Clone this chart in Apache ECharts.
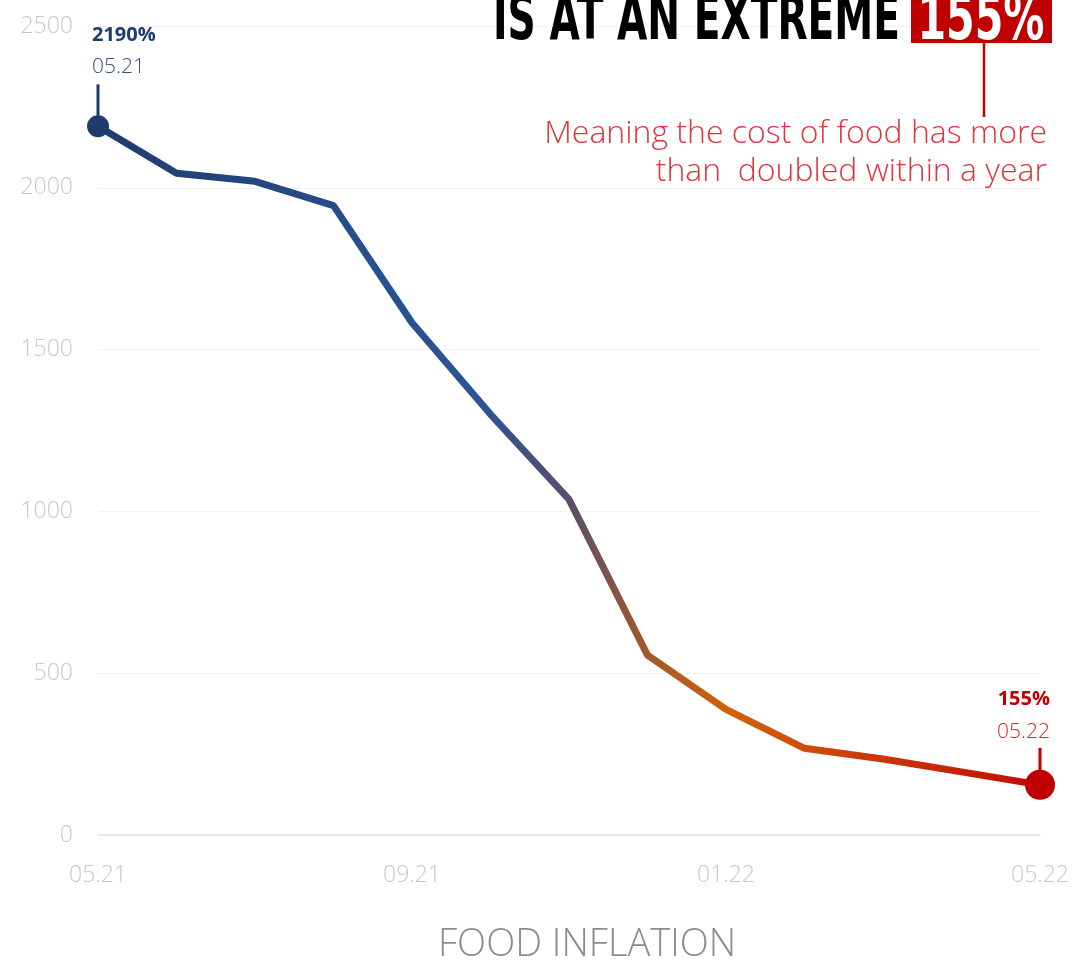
<!DOCTYPE html>
<html>
<head>
<meta charset="utf-8">
<script src="https://cdn.jsdelivr.net/npm/echarts@6/dist/echarts.min.js"></script>
<style>
html,body{margin:0;padding:0;background:#fff;}
#chart{width:1073px;height:960px;}
</style>
</head>
<body>
<div id="chart"></div>
<script>
const months = ['05.21','06.21','07.21','08.21','09.21','10.21','11.21','12.21','01.22','02.22','03.22','04.22','05.22'];
const inflation = [2190, 2045, 2020, 1945, 1583, 1300, 1037, 556, 388, 268, 235, 195, 155];
const yTicks = [0, 500, 1000, 1500, 2000, 2500];
const chartTitle = 'FOOD INFLATION';
const headline = 'IS AT AN EXTREME';
const headlineValue = '155%';
const note = ['Meaning the cost of food has more', 'than  doubled within a year'];

const NAVY = '#1f3b6e';
const RED = '#c00000';

const chart = echarts.init(document.getElementById('chart'), null, {renderer: 'canvas'});
const last = inflation.length - 1;

const seriesData = inflation.map((v, i) => {
  if (i === 0) return {value: v, symbol: 'circle', symbolSize: 22, itemStyle: {color: NAVY}};
  if (i === last) return {value: v, symbol: 'circle', symbolSize: 30, itemStyle: {color: RED}};
  return {value: v, symbol: 'none'};
});

const measureCtx = document.createElement('canvas').getContext('2d');
function textWidth(txt, font) { measureCtx.font = font; return measureCtx.measureText(txt).width; }

chart.setOption({
  animation: false,
  title: {
    text: chartTitle,
    left: 433,
    top: 921,
    textStyle: {color: '#8c8c8c', fontSize: 38, fontWeight: 300, fontFamily: '"Open Sans"'}
  },
  grid: {left: 98, right: 33, top: 26, bottom: 125},
  xAxis: {
    type: 'category',
    boundaryGap: false,
    data: months,
    axisLine: {lineStyle: {color: '#e2e2e2', width: 1.5}},
    axisTick: {show: false},
    axisLabel: {interval: 3, color: '#c8c8c8', fontSize: 23, fontWeight: 300, margin: 29, fontFamily: '"Open Sans"'},
    splitLine: {show: false}
  },
  yAxis: {
    type: 'value',
    min: yTicks[0],
    max: yTicks[yTicks.length - 1],
    interval: 500,
    axisLine: {show: false},
    axisTick: {show: false},
    axisLabel: {color: '#c8c8c8', fontSize: 23, fontWeight: 300, margin: 25, fontFamily: '"Open Sans"', formatter: v => String(v)},
    splitLine: {lineStyle: {color: '#f1f1f1', width: 1}}
  },
  series: [{
    type: 'line',
    data: seriesData,
    symbol: 'none',
    z: 5,
    lineStyle: {
      width: 7,
      color: new echarts.graphic.LinearGradient(0, 0, 1, 0, [
        {offset: 0, color: '#1f3b6e'},
        {offset: 0.3, color: '#28508e'},
        {offset: 0.41, color: '#2c5494'},
        {offset: 0.5, color: '#5a4e6c'},
        {offset: 0.58, color: '#a0582c'},
        {offset: 0.67, color: '#d0620c'},
        {offset: 0.75, color: '#cf4a0a'},
        {offset: 1, color: '#c00a06'}
      ])
    }
  }]
});

function draw() {
  const p0 = chart.convertToPixel({seriesIndex: 0}, [0, inflation[0]]);
  const pN = chart.convertToPixel({seriesIndex: 0}, [last, inflation[last]]);
  const hFont = 'bold 62px "DejaVu Sans"';
  const hScale = 407 / textWidth(headline, hFont);
  const vScale = 127 / textWidth(headlineValue, hFont);
  const graphics = [
    // start annotation
    {type: 'line', shape: {x1: p0[0], y1: p0[1] - 42, x2: p0[0], y2: p0[1]}, style: {stroke: NAVY, lineWidth: 3}, z: 4},
    {type: 'text', x: p0[0] - 6, y: p0[1] - 91, style: {text: inflation[0] + '%', fill: NAVY, font: 'bold 20px "Open Sans"', textAlign: 'left', textVerticalAlign: 'middle'}},
    {type: 'text', x: p0[0] - 6, y: p0[1] - 59, style: {text: months[0], fill: '#34517f', font: '300 21px "Open Sans"', textAlign: 'left', textVerticalAlign: 'middle'}},
    // end annotation
    {type: 'line', shape: {x1: pN[0], y1: pN[1] - 37, x2: pN[0], y2: pN[1]}, style: {stroke: RED, lineWidth: 3}, z: 4},
    {type: 'text', x: pN[0] + 10, y: pN[1] - 86, style: {text: inflation[last] + '%', fill: RED, font: 'bold 20px "Open Sans"', textAlign: 'right', textVerticalAlign: 'middle'}},
    {type: 'text', x: pN[0] + 10, y: pN[1] - 53, style: {text: months[last], fill: '#d02a2a', font: '300 21px "Open Sans"', textAlign: 'right', textVerticalAlign: 'middle'}},
    // headline
    {type: 'text', x: 900, y: 54, scaleX: hScale, style: {text: headline, fill: '#000', font: hFont, textAlign: 'right', textVerticalAlign: 'bottom'}, z: 10},
    {type: 'rect', shape: {x: 911, y: -5, width: 141, height: 48}, style: {fill: RED}, z: 10},
    {type: 'text', x: 981, y: 54, scaleX: vScale, style: {text: headlineValue, fill: '#fff', font: hFont, textAlign: 'center', textVerticalAlign: 'bottom'}, z: 11},
    {type: 'line', shape: {x1: 984, y1: 43, x2: 984, y2: 117}, style: {stroke: RED, lineWidth: 2.5}, z: 10},
    {type: 'text', x: 1047, y: 134, style: {text: note[0], fill: '#e0343c', font: '300 32px "Open Sans"', textAlign: 'right', textVerticalAlign: 'middle'}, z: 10},
    {type: 'text', x: 1047, y: 172, style: {text: note[1], fill: '#e0343c', font: '300 32px "Open Sans"', textAlign: 'right', textVerticalAlign: 'middle'}, z: 10}
  ];
  chart.setOption({graphic: graphics});
}
draw();
</script>
</body>
</html>
